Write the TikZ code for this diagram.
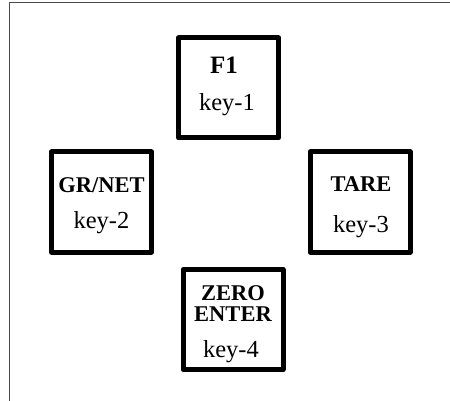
\documentclass[tikz,border=0pt]{standalone}
\usepackage{fontspec}
\setmainfont{Liberation Serif}
\begin{document}
\begin{tikzpicture}[x=1pt,y=-1pt,
  keybox/.style={draw=black,line width=5pt,line join=round,minimum width=100pt,minimum height=100pt,inner sep=0pt},
  lbl/.style={anchor=base,inner sep=0pt,font=\fontsize{22.5}{22.5}\selectfont\bfseries},
  klbl/.style={anchor=base,inner sep=0pt,font=\fontsize{24.5}{24.5}\selectfont}]
\useasboundingbox (0,0) rectangle (450,401);
\draw[line width=1.2pt,gray!60!black] (450,2.5) -- (9.5,2.5) -- (9.5,401);
% boxes
\node[keybox] (k1) at (228.5,88) {};
\node[keybox] (k2) at (101.5,202) {};
\node[keybox] (k3) at (360,202) {};
\node[keybox] (k4) at (233,319.5) {};
% labels
\node[lbl,font=\fontsize{25}{25}\selectfont\bfseries] (f1) at (224,74) {F1};
\node[klbl] (t1) at (227,111) {key-1};
\node[lbl] (gr) at (101.5,193) {GR/NET};
\node[klbl] (t2) at (101.5,228) {key-2};
\node[lbl] (ta) at (361,191) {TARE};
\node[klbl] (t3) at (361,233) {key-3};
\node[lbl] (ze) at (233,300) {ZERO};
\node[lbl] (en) at (233,321) {ENTER};
\node[klbl] (t4) at (231,357) {key-4};
\end{tikzpicture}
\end{document}
